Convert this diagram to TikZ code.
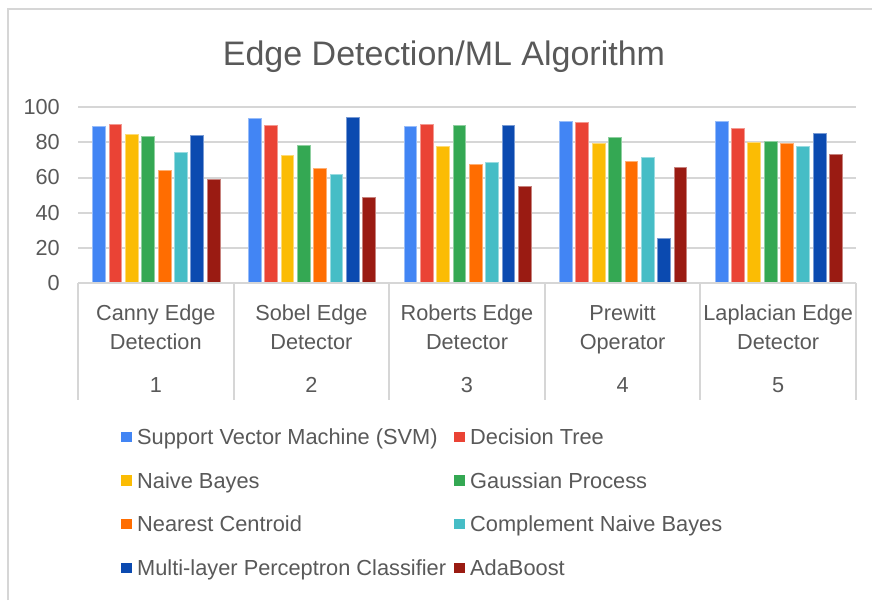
\documentclass[tikz,border=0pt]{standalone}
\usepackage{fontspec}
\setmainfont{Liberation Sans}
\definecolor{bar0}{HTML}{4285F4}
\definecolor{bar1}{HTML}{EA4335}
\definecolor{bar2}{HTML}{FBBC04}
\definecolor{bar3}{HTML}{34A853}
\definecolor{bar4}{HTML}{FF6D01}
\definecolor{bar5}{HTML}{46BDC6}
\definecolor{bar6}{HTML}{0B4AB0}
\definecolor{bar7}{HTML}{9A1B12}
\definecolor{gridgray}{HTML}{D6D6D6}
\definecolor{txtgray}{HTML}{595959}
\tikzset{
  gridline/.style={draw=gridgray, line width=2pt},
  framel/.style={draw=gridgray, line width=2.2pt},
  axislbl/.style={text=txtgray, font=\fontsize{21.7}{26}\selectfont, inner sep=0pt},
  legtxt/.style={text=txtgray, font=\fontsize{21.8}{26}\selectfont, inner sep=0pt, anchor=base west},
  titletxt/.style={text=txtgray, font=\fontsize{34}{40}\selectfont, inner sep=0pt, anchor=base},
  barbox/.style={line width=0.6pt},
}
\begin{document}
\begin{tikzpicture}[x=1pt,y=-1pt]
\useasboundingbox (0,0) rectangle (872,600);
\fill[white] (0,0) rectangle (872,600);
% outer frame (left and top only visible)
\coordinate (frameBL) at (8,600);
\coordinate (frameTL) at (8,9);
\coordinate (frameTR) at (872,9);
\draw[framel] (frameBL) -- (frameTL) -- (frameTR);
% title
\node[titletxt] (title) at (444,65) {Edge Detection/ML Algorithm};
% gridlines and y labels
\foreach \v in {20,40,60,80,100} {
  \coordinate (gl\v) at (78,{282.7-\v*1.7533});
  \coordinate (gr\v) at (856,{282.7-\v*1.7533});
  \draw[gridline] (gl\v) -- (gr\v);
}
\foreach \v in {0,20,40,60,80,100} {
  \node[axislbl, anchor=east] (ylab\v) at (60,{282.7-\v*1.7533}) {\v};
}
% bars
\foreach \c/\vals in {0/{89,90.5,84.6,83.7,64.3,74.1,83.8,58.9},
                      1/{93.5,89.9,72.4,78.5,65,61.8,94.3,48.5},
                      2/{89.2,90.5,77.8,89.9,67.3,68.8,89.9,55.1},
                      3/{92,91.4,79.5,82.9,69.4,71.7,25.1,65.8},
                      4/{92,88.2,80,80.6,79.5,77.8,85.2,73.2}} {
  \foreach \val [count=\k from 0] in \vals {
    \pgfmathsetmacro{\xl}{78+\c*155.6+14.6+\k*16.35}
    \pgfmathsetmacro{\yt}{282.7-\val*1.7533}
    \filldraw[barbox, fill=bar\k, draw=bar\k!55!white] (\xl,282.7) rectangle ({\xl+12.8},\yt);
  }
}
% category axis
\coordinate (axL) at (78,282.7);
\coordinate (axR) at (856,282.7);
\draw[gridline] (axL) -- (axR);
\foreach \i in {0,...,5} {
  \coordinate (sepT\i) at ({78+\i*155.6},282.7);
  \coordinate (sepB\i) at ({78+\i*155.6},400);
  \draw[gridline] (sepT\i) -- (sepB\i);
}
\foreach \i/\la/\lb in {0/Canny Edge/Detection, 1/Sobel Edge/Detector, 2/Roberts Edge/Detector, 3/Prewitt/Operator, 4/Laplacian Edge/Detector} {
  \pgfmathsetmacro{\xc}{78+\i*155.6+77.8}
  \pgfmathtruncatemacro{\num}{\i+1}
  \node[axislbl, anchor=base] (catA\i) at (\xc,320.7) {\la};
  \node[axislbl, anchor=base] (catB\i) at (\xc,349) {\lb};
  \node[axislbl, anchor=base] (catN\i) at (\xc,392.7) {\num};
}
% legend
\foreach \k/\xs/\yc/\name in {0/121/436.5/Support Vector Machine (SVM),
                              1/454/436.5/Decision Tree,
                              2/121/480.2/Naive Bayes,
                              3/454/480.2/Gaussian Process,
                              4/121/523.9/Nearest Centroid,
                              5/454/523.9/Complement Naive Bayes,
                              6/121/567.6/Multi-layer Perceptron Classifier,
                              7/454/567.6/AdaBoost} {
  \fill[bar\k] (\xs,{\yc-5}) rectangle ({\xs+10.5},{\yc+5.5});
  \node[legtxt] (leg\k) at ({\xs+16},{\yc+7.8}) {\name};
}
\end{tikzpicture}
\end{document}
